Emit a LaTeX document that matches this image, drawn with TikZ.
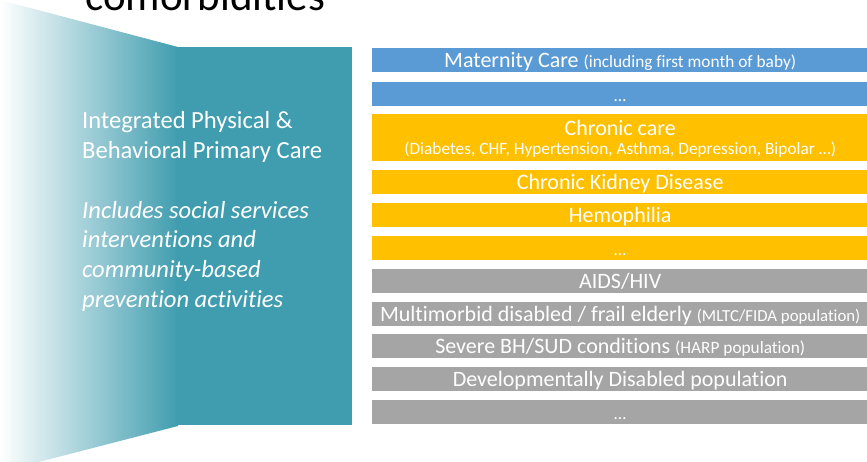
\documentclass[tikz,border=0pt]{standalone}
\usepackage{fontspec}
\setmainfont[Ligatures=NoCommon]{Carlito}
\definecolor{tealc}{HTML}{409DAF}
\definecolor{blueb}{HTML}{5B9BD5}
\definecolor{goldb}{HTML}{FFC000}
\definecolor{grayb}{HTML}{A5A5A5}
\tikzset{
  barbox/.style={minimum width=496pt, minimum height=24pt, inner sep=0pt, text=white, font=\fontsize{22}{24}\selectfont, text height=14pt, text depth=0pt, anchor=north west},
  bartext/.style={inner sep=0pt, text=white, anchor=base},
  lefttext/.style={anchor=base west, inner sep=0pt, text=white, font=\fontsize{24.6}{28}\selectfont},
  leftital/.style={lefttext, font=\fontsize{24.6}{28}\selectfont\itshape},
}
\newcommand{\smalltxt}[1]{{\fontsize{17.3}{20}\selectfont #1}}
\begin{document}
\begin{tikzpicture}[x=1pt,y=-1pt]
\useasboundingbox (0,0) rectangle (867,462);
\clip (0,0) rectangle (867,462);
% title fragment
\node[anchor=base west, inner sep=0pt, font=\fontsize{43}{50}\selectfont] (title) at (85,11) {comorbidities};
% funnel
\shade[left color=white, right color=tealc] (0,0) -- (178,47) -- (178,426) -- (0,472) -- cycle;
\fill[tealc] (176,47) rectangle (352,425);
% left texts
\node[lefttext] (l1) at (82,129) {Integrated Physical \&};
\node[lefttext] (l2) at (82,159) {Behavioral Primary Care};
\node[leftital] (l3) at (82,219) {Includes social services};
\node[leftital] (l4) at (82,248) {interventions and};
\node[leftital] (l5) at (82,278) {community-based};
\node[leftital] (l6) at (82,307) {prevention activities};
% bars
\node[barbox, fill=blueb] (b1) at (372,48) {Maternity Care \smalltxt{(including first month of baby)}};
\node[barbox, fill=blueb] (b2) at (372,82) {\smalltxt{\dots}};
\node[barbox, fill=goldb, minimum height=47pt] (b3) at (372,114) {};
\node[bartext, font=\fontsize{22}{24}\selectfont] (b3a) at ([yshift=26pt]b3.south) {Chronic care};
\node[bartext, font=\fontsize{17.3}{20}\selectfont] (b3b) at ([yshift=7pt]b3.south) {(Diabetes, CHF, Hypertension, Asthma, Depression, Bipolar \dots)};
\node[barbox, fill=goldb] (b4) at (372,170) {Chronic Kidney Disease};
\node[barbox, fill=goldb] (b5) at (372,203) {Hemophilia};
\node[barbox, fill=goldb] (b6) at (372,236) {\smalltxt{\dots}};
\node[barbox, fill=grayb] (b7) at (372,269) {AIDS/HIV};
\node[barbox, fill=grayb] (b8) at (372,302) {Multimorbid disabled / frail elderly {\fontsize{16.8}{18}\selectfont(MLTC/FIDA population)}};
\node[barbox, fill=grayb] (b9) at (372,334) {Severe BH/SUD conditions \smalltxt{(HARP population)}};
\node[barbox, fill=grayb] (b10) at (372,367) {Developmentally Disabled population};
\node[barbox, fill=grayb] (b11) at (372,400) {\smalltxt{\dots}};
\end{tikzpicture}
\end{document}
